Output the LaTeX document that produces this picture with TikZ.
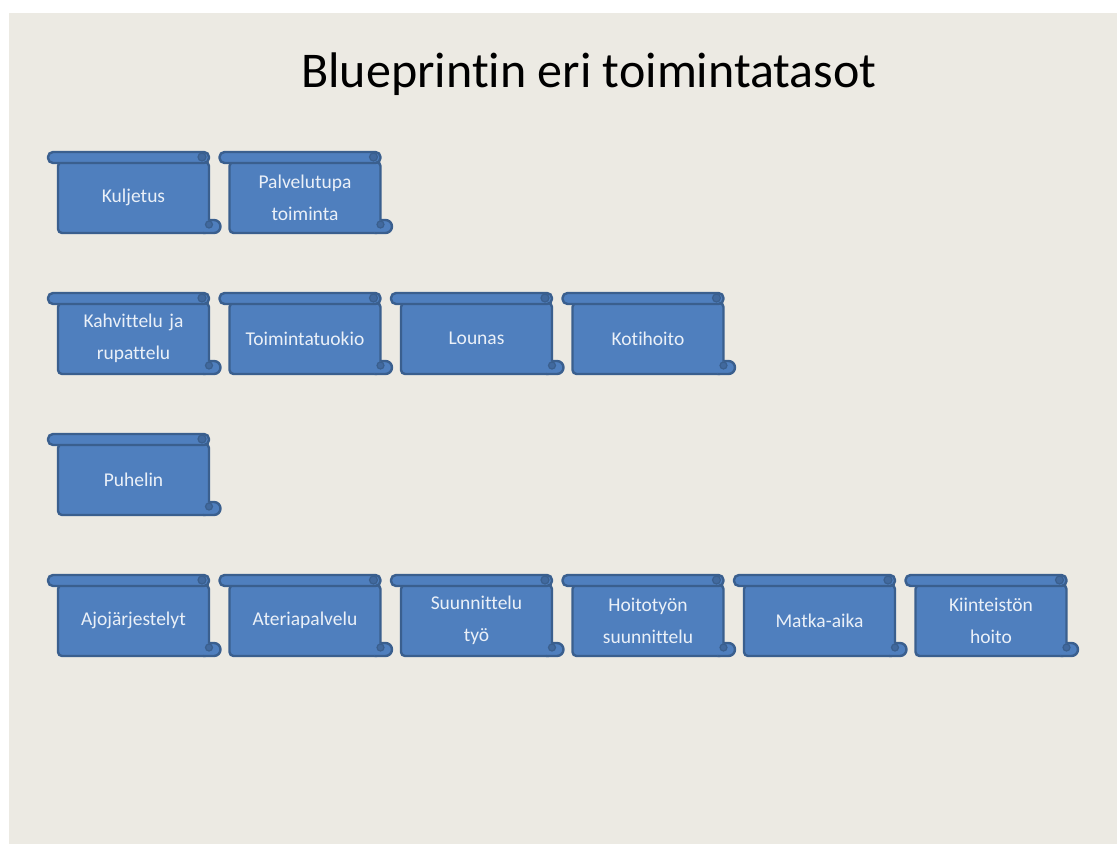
\documentclass[tikz,border=0pt]{standalone}
\usepackage{fontspec}
\setmainfont{Carlito}[Ligatures=NoCommon]
\usetikzlibrary{positioning}
\definecolor{slidebg}{HTML}{ECEAE3}
\definecolor{scrollblue}{HTML}{4F7FBE}
\definecolor{scrollline}{HTML}{3A5F8E}
\definecolor{scrolldark}{HTML}{41699E}
\definecolor{scrolltext}{HTML}{EAF0F8}

\begin{document}
\begin{tikzpicture}[x=1pt, y=-1pt,
  scrollbody/.style={draw=scrollline, fill=scrollblue, line width=2.4pt, rounded corners=4pt,
    minimum width=151pt, minimum height=71pt, outer sep=0pt, inner sep=0pt,
    text width=148pt, align=center, text=scrolltext, font=\fontsize{19.5}{32}\selectfont},
  scrollroll/.style={draw=scrollline, fill=scrollblue, line width=2.4pt},
  scrollcurl/.style={draw=scrollline, fill=scrolldark, line width=1.2pt}]
\useasboundingbox (0,0) rectangle (1117,844);
\fill[slidebg] (9,13) rectangle (1117,844);
\node[font=\fontsize{50}{56}\selectfont, anchor=base] (title) at (589,87) {Blueprintin eri toimintatasot};
% rivi 1
\node[scrollbody] (kuljetus) at (133.5,197.5) {Kuljetus};
\node[scrollbody, right=20.5pt of kuljetus] (palvelutupa) {Palvelutupa\\toiminta};
% rivi 2
\node[scrollbody, below=70pt of kuljetus] (kahvittelu) {Kahvittelu ja\\rupattelu};
\node[scrollbody, right=20.5pt of kahvittelu] (toimintatuokio) {Toimintatuokio};
\node[scrollbody, right=20.5pt of toimintatuokio] (lounas) {Lounas};
\node[scrollbody, right=20.5pt of lounas] (kotihoito) {Kotihoito};
% rivi 3
\node[scrollbody, below=70pt of kahvittelu] (puhelin) {Puhelin};
% rivi 4
\node[scrollbody, below=70pt of puhelin] (ajojarjestelyt) {Ajojärjestelyt};
\node[scrollbody, right=20.5pt of ajojarjestelyt] (ateriapalvelu) {Ateriapalvelu};
\node[scrollbody, right=20.5pt of ateriapalvelu] (suunnittelu) {Suunnittelu\\työ};
\node[scrollbody, right=20.5pt of suunnittelu] (hoitotyo) {Hoitotyön\\suunnittelu};
\node[scrollbody, right=20.5pt of hoitotyo] (matkaaika) {Matka-aika};
\node[scrollbody, right=20.5pt of matkaaika] (kiinteisto) {Kiinteistön\\hoito};
% kääröjen rullat
\foreach \n in {kuljetus,palvelutupa,kahvittelu,toimintatuokio,lounas,kotihoito,puhelin,
    ajojarjestelyt,ateriapalvelu,suunnittelu,hoitotyo,matkaaika,kiinteisto} {
  \draw[scrollroll, rounded corners=5pt] ([xshift=-10pt,yshift=-1pt]\n.north west) rectangle ([yshift=10pt]\n.north east);
  \filldraw[scrollcurl] ([xshift=-7pt,yshift=5pt]\n.north east) circle (4pt);
  \draw[scrollroll] ([yshift=13pt]\n.south east) -- ([xshift=5pt,yshift=13pt]\n.south east)
    arc[start angle=90, end angle=-90, radius=6.5pt] -- ([xshift=-6pt]\n.south east);
  \filldraw[scrollcurl] ([xshift=0pt,yshift=8.5pt]\n.south east) circle (3.5pt);
}
\end{tikzpicture}
\end{document}
